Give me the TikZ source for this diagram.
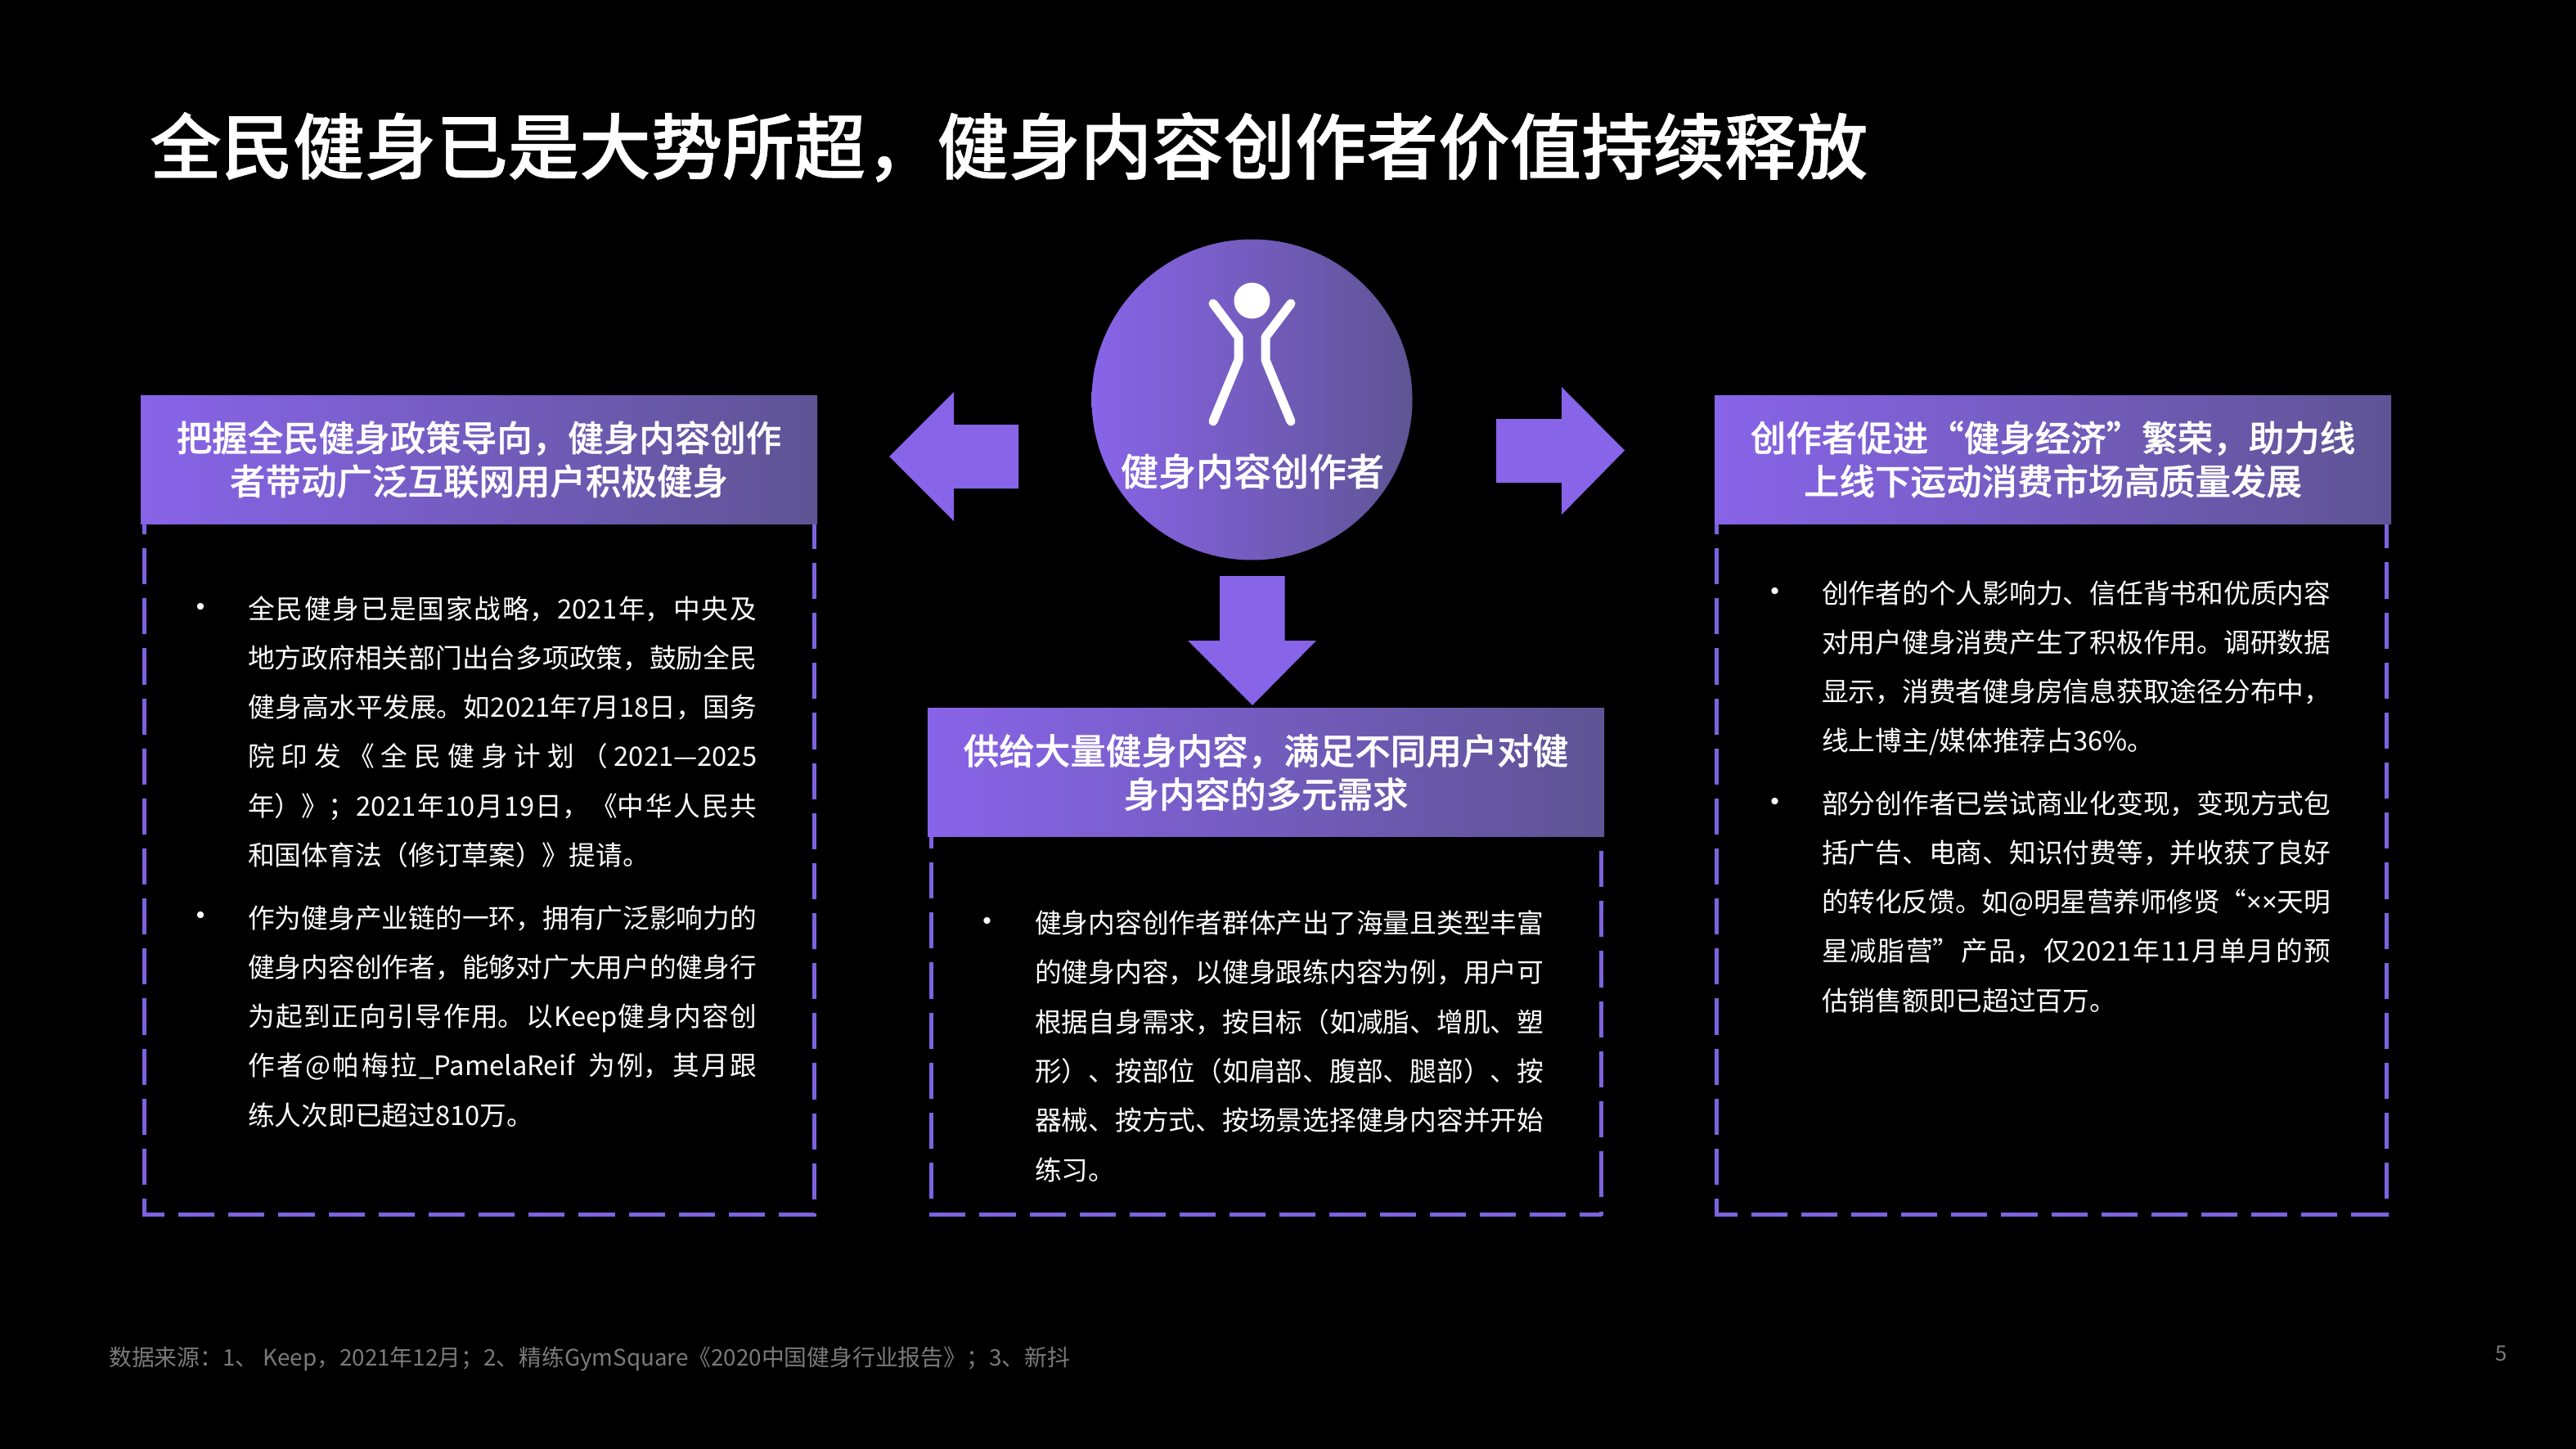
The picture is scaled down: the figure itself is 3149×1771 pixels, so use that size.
\documentclass[tikz,border=0pt]{standalone}
\usepackage{fontspec}
\setmainfont{Noto Sans CJK SC}
\newfontfamily\medfont[UprightFont=* Medium,UprightFeatures={FakeBold=0.8}]{Noto Sans CJK SC}
\newfontfamily\narrowx{Noto Sans}
\newfontfamily\dotfont{Liberation Sans}
\XeTeXlinebreaklocale "zh"
\XeTeXlinebreakskip=0pt plus 1pt minus 0.3pt
\tolerance=10000
\hbadness=10000
\hfuzz=3pt
\newcommand\LB{\penalty-10000 }
\newcommand\GL{\hskip 0pt plus 1pt\relax}
\definecolor{grA}{HTML}{8864E8}
\definecolor{grB}{HTML}{5E5494}
\definecolor{dashc}{HTML}{7C62DE}
\definecolor{footc}{HTML}{7A7A7A}
\tikzset{
  x=1pt,y=-1pt,
  gradbox/.style={rectangle,inner sep=0pt,left color=grA,right color=grB,minimum width=827pt,minimum height=157pt,
    text=white,align=center,font=\medfont\fontsize{43.5}{53}\selectfont},
  bodytext/.style={anchor=base west,inner sep=0pt,text=white,text width=622pt,align=justify,font=\fontsize{32.7}{60.3}\selectfont},
  bulletmark/.style={inner sep=0pt,text=white,font=\dotfont\fontsize{30}{34}\selectfont},
  dashline/.style={draw=dashc,line width=5pt,dash pattern=on 44.15pt off 17pt},
  solidline/.style={draw=dashc,line width=5pt},
  blockarrow/.style={fill=grA,draw=none},
  figure/.style={draw=white,line width=11pt,line cap=round,line join=round},
  foot/.style={inner sep=0pt,text=footc},
}
\begin{document}
\begin{tikzpicture}
\useasboundingbox (0,0) rectangle (3149,1771);
\fill[black] (0,0) rectangle (3149,1771);

% title
\node[anchor=base west,inner sep=0pt,text=white,font=\medfont\fontsize{87.5}{100}\selectfont] (title) at (183,212) {全民健身已是大势所超，健身内容创作者价值持续释放};

% dashed frames
\draw[dashline] (176,486.6) -- (176,1484) -- (995,1484) -- (995,483);
\draw[dashline] (1138,870.7) -- (1138,1484) -- (1957.5,1484);
\draw[dashline] (1957.5,979) -- (1957.5,1450);
\draw[solidline] (1957.5,1450) -- (1957.5,1463) (1957.5,1481) -- (1957.5,1486);
\draw[dashline] (2098.5,486.6) -- (2098.5,1484) -- (2917,1484) -- (2917,483);

% headers
\node[gradbox] (headL) at (585.5,561.5) {把握全民健身政策导向，健身内容创作\\者带动广泛互联网用户积极健身};
\node[gradbox] (headM) at (1547.5,944) {供给大量健身内容，满足不同用户对健\\身内容的多元需求};
\node[gradbox] (headR) at (2509.5,561.5) {创作者促进“健身经济”繁荣，助力线\\上线下运动消费市场高质量发展};

% central circle
\node[circle,inner sep=0pt,minimum size=392pt,left color=grA,right color=grB] (hub) at (1530.5,488.5) {};
\fill[white] (1530.5,367.5) circle (22);
\draw[figure] (1483,371) -- (1514,412) -- (1514,440) -- (1483,515);
\draw[figure] (1578,371) -- (1547,412) -- (1547,440) -- (1578,515);
\node[inner sep=0pt,text=white,font=\medfont\fontsize{46}{50}\selectfont] (hubtext) at (1531,576) {健身内容创作者};

% block arrows
\fill[blockarrow] (1245,519) -- (1166,519) -- (1166,479) -- (1087,558) -- (1166,637) -- (1166,597) -- (1245,597) -- cycle;
\fill[blockarrow] (1829,512) -- (1909,512) -- (1909,473) -- (1986,550.5) -- (1909,629) -- (1909,590) -- (1829,590) -- cycle;
\fill[blockarrow] (1491,704) -- (1570.5,704) -- (1570.5,783) -- (1609,783) -- (1531,862) -- (1452,783) -- (1491,783) -- cycle;

% left body
\node[bulletmark] (bL1) at (245,744) {•};
\node[bodytext] (txtL1) at (303,756) {全民健身已是国家战略，2021年，中央及\LB 地方政府相关部门出台多项政策，鼓励全民\LB 健身高水平发展。如2021年7月18日，国务\LB 院印发\GL《\GL 全民健身计划\GL（\GL\mbox{2021—2025}\LB 年）》；2021年10月19日，《中华人民共\LB 和国体育法（修订草案）》提请。};
\node[bulletmark] (bL2) at (245,1121) {•};
\node[bodytext] (txtL2) at (303,1134) {作为健身产业链的一环，拥有广泛影响力的\LB 健身内容创作者，能够对广大用户的健身行\LB 为起到正向引导作用。以Keep健身内容创\LB 作者@帕梅拉\_PamelaReif 为例，其月跟\LB 练人次即已超过810万。};

% middle body
\node[bulletmark] (bM1) at (1206.7,1128.5) {•};
\node[bodytext] (txtM1) at (1265,1140.5) {健身内容创作者群体产出了海量且类型丰富\LB 的健身内容，以健身跟练内容为例，用户可\LB 根据自身需求，按目标（如减脂、增肌、塑\LB 形）、按部位（如肩部、腹部、腿部）、按\LB 器械、按方式、按场景选择健身内容并开始\LB 练习。};

% right body
\node[bulletmark] (bR1) at (2169.6,725) {•};
\node[bodytext] (txtR1) at (2227,737) {创作者的个人影响力、信任背书和优质内容\LB 对用户健身消费产生了积极作用。调研数据\LB 显示，消费者健身房信息获取途径分布中，\LB 线上博主/媒体推荐占36\%。};
\node[bulletmark] (bR2) at (2169.6,982) {•};
\node[bodytext] (txtR2) at (2227,994) {部分创作者已尝试商业化变现，变现方式包\LB 括广告、电商、知识付费等，并收获了良好\LB 的转化反馈。如@明星营养师修贤“{\narrowx ××}天明\LB 星减脂营”产品，仅2021年11月单月的预\LB 估销售额即已超过百万。};

% footer
\node[foot,anchor=base west,font=\fontsize{27.8}{32}\selectfont] (source) at (133,1669) {数据来源：1、 Keep，2021年12月；2、精练GymSquare《2020中国健身行业报告》；3、新抖};
\node[foot,anchor=base,font=\fontsize{26}{28}\selectfont] (page) at (3058,1663) {5};
\end{tikzpicture}
\end{document}
